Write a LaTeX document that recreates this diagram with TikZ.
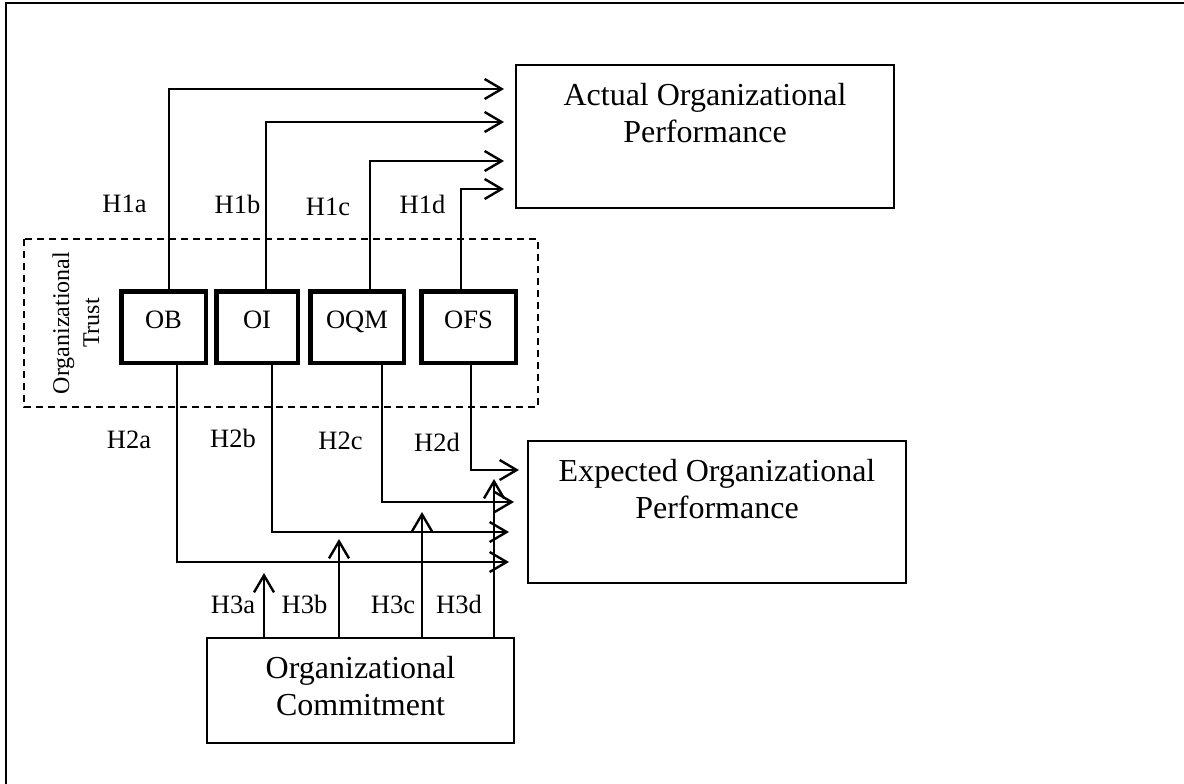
\documentclass[tikz,border=0pt]{standalone}
\usepackage{fontspec}
\setmainfont{Liberation Serif}
\usetikzlibrary{arrows.meta}
\newcommand{\bigfont}{\fontsize{32}{37}\selectfont}
\newcommand{\hypfont}{\fontsize{26.5}{30}\selectfont}
\newcommand{\sidefont}{\fontsize{24}{30}\selectfont}
\tikzset{
  result/.style={draw, line width=2pt, anchor=north west, inner sep=0pt,
    label={[font=\bigfont, align=center, anchor=north, yshift=-19pt, inner sep=0pt]north:{#1}}},
  facet/.style={draw, line width=4.5pt, minimum height=71.5pt, inner sep=0pt, font=\hypfont,
    text height=18pt, text depth=14.4pt},
  link/.style={line width=2.4pt, -{Straight Barb[length=17pt,width=20pt]}},
  hyp/.style={font=\hypfont, inner sep=0pt},
}
\begin{document}
\begin{tikzpicture}[x=1pt,y=-1pt]
  \useasboundingbox (0,0) rectangle (1184,784);
  % frame
  \draw[line width=2.5pt] (6,784) -- (6,3) -- (1184,3);
  % outcome boxes
  \node[result={Actual Organizational\\Performance}, minimum width=378pt, minimum height=143pt] (actual) at (515,64) {};
  \node[result={Expected Organizational\\Performance}, minimum width=378pt, minimum height=142pt] (expected) at (527,440) {};
  \node[result={Organizational\\Commitment}, minimum width=307pt, minimum height=105pt] (commit) at (206,637) {};
  % organizational trust
  \draw[dash pattern=on 7pt off 5pt, line width=1.4pt] (24,239) rectangle (538,407);
  \node[font=\sidefont, align=center, rotate=90, inner sep=0pt] (trust) at (76,323) {Organizational\\Trust};
  \node[facet, minimum width=84.5pt] (ob) at (163.5,327) {OB};
  \node[facet, minimum width=81.5pt] (oi) at (257,327) {OI};
  \node[facet, minimum width=93.5pt] (oqm) at (357,327) {OQM};
  \node[facet, minimum width=94.5pt] (ofs) at (468.5,327) {OFS};
  % H1: trust -> actual
  \foreach \f/\dx/\dy in {ob/5.5/47.5, oi/9/14.5, oqm/13/-24.5, ofs/-7.5/-52.5}
    \draw[link] ([xshift=\dx pt]\f.north) |- ([xshift=-11pt,yshift=\dy pt]actual.west);
  % H2: trust -> expected
  \foreach \f/\dx/\dy/\gap in {ob/13.5/-50/18, oi/15/-20/18, oqm/25/10/13, ofs/2.5/42/8}
    \draw[link] ([xshift=\dx pt]\f.south) |- ([xshift=-\gap pt,yshift=\dy pt]expected.west);
  % H3: commitment as moderator
  \foreach \dx/\len in {-96.5/64, -21.5/98, 61.5/125, 133.5/158}
    \draw[link] ([xshift=\dx pt]commit.north) -- ++(0,-\len);
  % hypothesis labels
  \foreach \t/\x/\y in {H1a/124.5/204, H1b/237.5/204, H1c/328/206.5, H1d/422.5/204,
      H2a/129/440, H2b/233/438, H2c/340.5/441, H2d/437/442,
      H3a/233/604.5, H3b/304.5/604.5, H3c/393/604.5, H3d/459/604.5}
    \node[hyp] (\t) at (\x,\y) {\t};
\end{tikzpicture}
\end{document}
